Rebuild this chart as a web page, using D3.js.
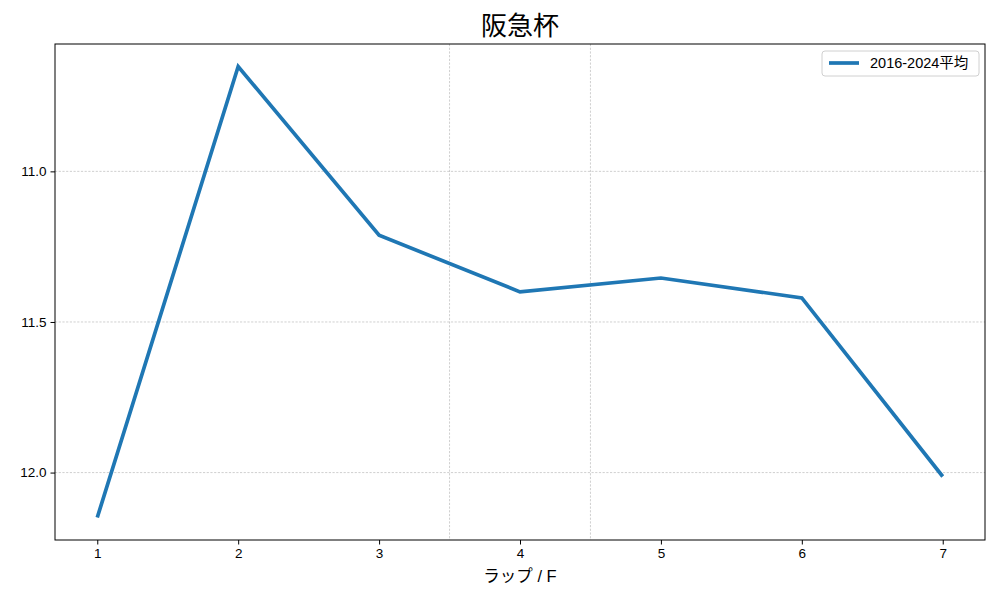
<!DOCTYPE html>
<html><head><meta charset="utf-8">
<script src="https://cdn.jsdelivr.net/npm/d3@7"></script>
<style>body{margin:0;background:#fff;} text{font-family:"Liberation Sans","Noto Sans CJK JP",sans-serif;}</style>
</head><body>
<svg id="c" width="1000" height="600"></svg>
<script>
const laps = [1,2,3,4,5,6,7];
const avgTimes = [12.149, 10.652, 11.212, 11.400, 11.354, 11.420, 12.013];
const yTicks = [11.0, 11.5, 12.0];
const xGridExtra = [3.5, 4.5];
const seriesName = "2016-2024平均";
const title = "阪急杯";
const xLabel = "ラップ / F";

const svg = d3.select("#c");
const L=55, R=985, T=44, B=540;
const x = d3.scaleLinear().domain([0.7, 7.3]).range([L, R]);
const ymin = d3.min(avgTimes), ymax = d3.max(avgTimes), pad=(ymax-ymin)*0.05;
const y = d3.scaleLinear().domain([ymin-pad, ymax+pad]).range([T, B]);

// grid
const g = svg.append("g");
g.selectAll(".hg").data(yTicks).join("line")
 .attr("x1",L).attr("x2",R).attr("y1",d=>y(d)).attr("y2",d=>y(d))
 .attr("stroke","#b0b0b0").attr("stroke-width",0.6).attr("stroke-dasharray","2.2,1.5");
g.selectAll(".vg").data(xGridExtra).join("line")
 .attr("y1",T).attr("y2",B).attr("x1",d=>x(d)).attr("x2",d=>x(d))
 .attr("stroke","#b0b0b0").attr("stroke-width",0.6).attr("stroke-dasharray","2.2,1.5");

// line
svg.append("path").datum(laps.map((l,i)=>[l,avgTimes[i]]))
 .attr("d", d3.line().x(d=>x(d[0])).y(d=>y(d[1])))
 .attr("fill","none").attr("stroke","#1f77b4").attr("stroke-width",3.7)
 .attr("stroke-linejoin","miter").attr("stroke-linecap","butt");

// axes
const xa = svg.append("g").attr("transform",`translate(0,${B})`)
 .call(d3.axisBottom(x).tickValues(laps).tickFormat(d3.format("d")).tickSize(4.5).tickPadding(4));
const ya = svg.append("g").attr("transform",`translate(${L},0)`)
 .call(d3.axisLeft(y).tickValues(yTicks).tickFormat(d3.format(".1f")).tickSize(4.5).tickPadding(4));
[xa,ya].forEach(a=>{a.select(".domain").remove();a.selectAll("text").attr("font-size",13.5).attr("fill","#000");a.selectAll("line").attr("stroke","#000").attr("stroke-width",1);});

svg.append("rect").attr("x",L).attr("y",T).attr("width",R-L).attr("height",B-T)
 .attr("fill","none").attr("stroke","#000").attr("stroke-width",1);

svg.append("text").attr("x",(L+R)/2).attr("y",35).attr("text-anchor","middle")
 .attr("font-family","Noto Sans CJK JP").attr("font-size",26).text(title);
svg.append("text").attr("x",(L+R)/2).attr("y",582).attr("text-anchor","middle")
 .attr("font-size",16.5).text(xLabel);

// legend
const lg = svg.append("g").attr("transform","translate(822,51)");
lg.append("rect").attr("width",157).attr("height",25).attr("rx",3)
 .attr("fill","#fff").attr("fill-opacity",0.8).attr("stroke","#d0d0d0");
lg.append("line").attr("x1",7).attr("x2",37).attr("y1",12).attr("y2",12)
 .attr("stroke","#1f77b4").attr("stroke-width",3.7);
lg.append("text").attr("x",48).attr("y",17).attr("font-size",14.5).text(seriesName);
</script>
</body></html>
